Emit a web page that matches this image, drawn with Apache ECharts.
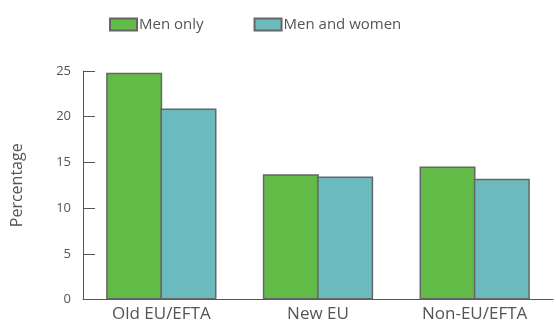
<!DOCTYPE html>
<html><head><meta charset="utf-8">
<script src="https://cdn.jsdelivr.net/npm/echarts@6/dist/echarts.min.js"></script>
<style>html,body{margin:0;padding:0;background:#fff}#c{width:556px;height:320px}</style>
</head><body><div id="c"></div>
<script>
const categories = ["Old EU/EFTA", "New EU", "Non-EU/EFTA"];
const menOnly = [24.8, 13.7, 14.55];
const menAndWomen = [20.9, 13.45, 13.2];
const seriesNames = ["Men only", "Men and women"];
const yTicks = [0, 5, 10, 15, 20, 25];

const font = "Open Sans";
const chart = echarts.init(document.getElementById('c'));
chart.setOption({
  animation: false,
  grid: { left: 83, right: 3, top: 71, bottom: 20.5, containLabel: false, outerBoundsMode: 'none' },
  legend: {
    top: 12, left: 104, itemWidth: 27, itemHeight: 12, itemGap: 50, icon: 'rect',
    textStyle: { fontFamily: font, fontSize: 15, color: '#555', padding: [0,0,0,-3] },
    data: seriesNames
  },
  xAxis: {
    type: 'category', data: categories,
    axisLine: { lineStyle: { color: '#555', width: 1 } },
    axisTick: { inside: true, length: 4, lineStyle: { color: '#555' } },
    axisLabel: { fontFamily: font, fontSize: 17, color: '#555', margin: 6 }
  },
  yAxis: {
    type: 'value', min: yTicks[0], max: yTicks[yTicks.length-1], interval: 5,
    name: 'Percentage', nameLocation: 'middle', nameGap: 58,
    nameTextStyle: { fontFamily: font, fontSize: 16, color: '#555' },
    axisLine: { show: true, lineStyle: { color: '#555', width: 1 } },
    axisTick: { show: true, inside: true, length: 12, lineStyle: { color: '#555' } },
    axisLabel: { fontFamily: font, fontSize: 13, color: '#555', margin: 12 },
    splitLine: { show: false }
  },
  series: [
    { name: seriesNames[0], type: 'bar', data: menOnly, barGap: '-3%', barWidth: 56,
      itemStyle: { color: '#62bb46', borderColor: '#666', borderWidth: 1.5 } },
    { name: seriesNames[1], type: 'bar', data: menAndWomen, barGap: '-3%', barWidth: 56,
      itemStyle: { color: '#6bbabd', borderColor: '#666', borderWidth: 1.5 } }
  ]
});
</script></body></html>
